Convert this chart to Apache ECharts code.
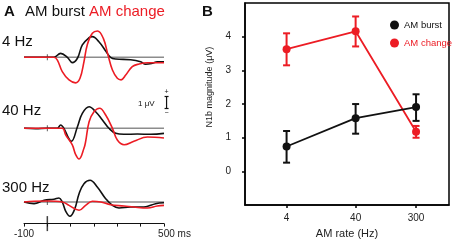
<!DOCTYPE html>
<html>
<head>
<meta charset="utf-8">
<script src="https://cdn.jsdelivr.net/npm/echarts@6/dist/echarts.min.js"></script>
<style>
  html, body { margin: 0; padding: 0; background: #fff; }
  #main { width: 454px; height: 244px; }
</style>
</head>
<body>
<div id="main"></div>
<script>
// panel A: evoked waveforms, time in ms, amplitude in uV (up = positive)
var hz4Black = [[-100,0],[-50,0],[0,0],[28,0],[57,0.33],[86,0],[107,-0.44],[129,-0.08],[150,1.03],[179,1.63],[193,1.72],[221,1.3],[250,0.53],[271,0],[293,-0.14],[357,-0.2],[400,-0.37],[421,-0.58],[450,-0.5],[471,-0.37],[500,-0.37]];
var hz4Red = [[-100,0],[0,0],[28,0],[43,-0.23],[64,-1.2],[93,-1.89],[121,-2.13],[140,-1.75],[157,-0.37],[171,1.03],[193,2.0],[215,2.19],[240,1.58],[260,0.19],[279,-1.06],[300,-1.75],[316,-1.88],[336,-1.48],[364,-0.78],[393,-0.56],[429,-0.45],[471,-0.45],[500,-0.45]];
var hz40Black = [[-100,0],[-50,-0.04],[0,0],[43,0],[57,0.28],[71,0],[93,-0.89],[103,-1.08],[129,0.13],[150,1.25],[179,1.8],[207,1.38],[236,0.69],[264,0],[293,-0.42],[328,-0.5],[386,-0.48],[443,-0.5],[500,-0.42]];
var hz40Red = [[-100,0],[0,0],[64,0],[79,-0.56],[107,-1.39],[121,-2.17],[136,-2.56],[157,-1.67],[164,-1.12],[179,0.55],[200,1.38],[224,1.67],[250,1.11],[279,0],[300,-0.98],[329,-1.37],[371,-1.08],[429,-0.73],[500,-0.81]];
var hz300Black = [[-100,0],[-57,-0.14],[-14,0.14],[28,0.23],[50,0.33],[64,0],[79,-0.78],[97,-1.19],[117,-0.61],[136,0.69],[157,1.53],[183,1.81],[214,1.25],[250,0.28],[279,-0.28],[307,-0.5],[357,-0.42],[414,-0.42],[464,-0.14],[500,-0.06]];
var hz300Red = [[-100,0],[-57,0.06],[0,0.08],[64,0],[93,-0.28],[136,-0.69],[164,-0.28],[193,0.06],[229,0],[271,-0.23],[329,-0.33],[371,-0.42],[429,-0.5],[471,-0.33],[500,-0.28]];
var timeLabels = { '-100': '-100', '500': '{sp|}500 ms' };
var scaleBar = [[511, 1.65, 2.65]];

// panel B: N1b magnitude by AM rate
var rates = [4, 40, 300];
var burstMean = [0.74, 1.58, 1.91];
var burstLo = [0.26, 1.12, 1.5];
var burstHi = [1.2, 2.0, 2.29];
var changeMean = [3.63, 4.16, 1.18];
var changeLo = [3.15, 3.71, 1.0];
var changeHi = [4.1, 4.6, 1.35];

var RED = '#ec1c24';
var BLACK = '#111';
var GRAY = '#8c8c8c';
var FONT = '"Liberation Sans", Arial, sans-serif';

var chart = echarts.init(document.getElementById('main'));

function pair(x, y) {
    var out = [];
    for (var i = 0; i < x.length; i++) out.push([x[i], y[i]]);
    return out;
}
function bars(x, lo, hi) {
    var out = [];
    for (var i = 0; i < x.length; i++) out.push([x[i], lo[i], hi[i]]);
    return out;
}
function errRender(color) {
    return function (params, api) {
        var top = api.coord([api.value(0), api.value(2)]);
        var bot = api.coord([api.value(0), api.value(1)]);
        var w = 3.5;
        var st = { stroke: color, lineWidth: 2 };
        return {
            type: 'group',
            children: [
                { type: 'line', shape: { x1: top[0], y1: top[1], x2: bot[0], y2: bot[1] }, style: st },
                { type: 'line', shape: { x1: top[0] - w, y1: top[1], x2: top[0] + w, y2: top[1] }, style: st },
                { type: 'line', shape: { x1: bot[0] - w, y1: bot[1], x2: bot[0] + w, y2: bot[1] }, style: st }
            ]
        };
    };
}
function wave(name, data, color, idx) {
    return {
        name: name, type: 'line', xAxisIndex: idx, yAxisIndex: idx,
        data: data, smooth: 0.4, symbol: 'none', clip: false, z: 3,
        lineStyle: { color: color, width: 1.6 }
    };
}
function baseline(idx) {
    return {
        type: 'line', xAxisIndex: idx, yAxisIndex: idx, symbol: 'none', silent: true, z: 2,
        data: [[-100, 0], [500, 0]], lineStyle: { color: GRAY, width: 1.5 }
    };
}
function zeroMark(idx) {
    return {
        type: 'scatter', xAxisIndex: idx, yAxisIndex: idx, silent: true, z: 2,
        data: [[0, 0]], symbol: 'rect', symbolSize: [1, 6], itemStyle: { color: '#333' }
    };
}
function hiddenX(idx) {
    return { type: 'value', gridIndex: idx, min: -100, max: 500, show: false };
}
function hiddenY(idx, mn, mx) {
    return { type: 'value', gridIndex: idx, min: mn, max: mx, show: false };
}

var option = {
    animation: false,
    textStyle: { fontFamily: FONT },
    grid: [
        { left: 24, width: 140, top: 27.3, height: 60 },
        { left: 24, width: 140, top: 92.3, height: 72 },
        { left: 24, width: 140, top: 178, height: 45.6 },
        { left: 245, right: 5, top: 3, bottom: 36, show: true, borderColor: '#000', borderWidth: 1.5 }
    ],
    xAxis: [
        hiddenX(0),
        hiddenX(1),
        {
            type: 'value', gridIndex: 2, min: -100, max: 500, interval: 100,
            splitLine: { show: false },
            axisLine: { show: true, onZero: false, lineStyle: { color: '#111', width: 1 } },
            axisTick: { show: true, length: 3, lineStyle: { color: '#111' } },
            axisLabel: {
                margin: 6, fontSize: 10, color: '#222', showMinLabel: true, showMaxLabel: true,
                formatter: function (v) { return timeLabels[String(v)] || ''; },
                rich: { sp: { width: 21 } }
            }
        },
        {
            type: 'log', gridIndex: 3, min: 1, max: 900, logBase: 10,
            splitLine: { show: false },
            axisLine: { show: true, onZero: false, lineStyle: { color: '#000', width: 1.5 } },
            axisTick: { show: true, length: 3, customValues: rates, lineStyle: { color: '#000', width: 1.5 } },
            axisLabel: { customValues: rates, margin: 8, fontSize: 10, color: '#222' },
            name: 'AM rate (Hz)', nameLocation: 'middle', nameGap: 22,
            nameTextStyle: { fontSize: 11, color: '#222' }
        }
    ],
    yAxis: [
        hiddenY(0, -2.5, 2.5),
        hiddenY(1, -3, 3),
        hiddenY(2, -1.8, 2),
        {
            type: 'value', gridIndex: 3, min: -1, max: 5,
            splitLine: { show: false },
            axisLine: { show: true, onZero: false, lineStyle: { color: '#000', width: 1.5 } },
            axisTick: { show: true, length: 3, customValues: [0, 1, 2, 3, 4], lineStyle: { color: '#000', width: 1.5 } },
            axisLabel: { customValues: [0, 1, 2, 3, 4], margin: 14, fontSize: 10, color: '#222' },
            name: 'N1b magnitude (μV)', nameLocation: 'middle', nameGap: 31,
            nameTextStyle: { fontSize: 9, color: '#222', padding: [0, 0, 0, 34] }
        }
    ],
    legend: {
        orient: 'vertical', left: 385, top: 15, itemWidth: 9, itemHeight: 9, itemGap: 8,
        icon: 'circle', textStyle: { fontSize: 9.5 },
        data: [
            { name: 'AM burst', textStyle: { color: BLACK } },
            { name: 'AM change', textStyle: { color: RED } }
        ]
    },
    graphic: [
        { type: 'text', left: 4, top: 4, style: { text: 'A', font: 'bold 15px ' + FONT, fill: '#111' } },
        { type: 'text', left: 25, top: 4, style: { text: 'AM burst', font: '15px ' + FONT, fill: '#111' } },
        { type: 'text', left: 89, top: 4, style: { text: 'AM change', font: '15px ' + FONT, fill: RED } },
        { type: 'text', left: 2, top: 34, style: { text: '4 Hz', font: '15px ' + FONT, fill: '#111' } },
        { type: 'text', left: 2, top: 103, style: { text: '40 Hz', font: '15px ' + FONT, fill: '#111' } },
        { type: 'text', left: 2, top: 180, style: { text: '300 Hz', font: '15px ' + FONT, fill: '#111' } },
        { type: 'text', left: 138, top: 100, style: { text: '1 μV', font: '8px ' + FONT, fill: '#111' } },
        { type: 'text', left: 202, top: 4, style: { text: 'B', font: 'bold 15px ' + FONT, fill: '#111' } }
    ],
    series: [
        baseline(0), baseline(1), baseline(2),
        zeroMark(0), zeroMark(1), zeroMark(2),
        wave('4 Hz burst', hz4Black, BLACK, 0),
        wave('4 Hz change', hz4Red, RED, 0),
        wave('40 Hz burst', hz40Black, BLACK, 1),
        wave('40 Hz change', hz40Red, RED, 1),
        wave('300 Hz burst', hz300Black, BLACK, 2),
        wave('300 Hz change', hz300Red, RED, 2),
        {
            type: 'scatter', xAxisIndex: 2, yAxisIndex: 2, silent: true, clip: false,
            data: [[0, -1.8]], symbol: 'rect', symbolSize: [1.5, 15], itemStyle: { color: '#111' }
        },
        {
            type: 'custom', xAxisIndex: 1, yAxisIndex: 1, silent: true, clip: false,
            data: scaleBar, encode: { x: 0, y: [1, 2] },
            renderItem: function (params, api) {
                var top = api.coord([api.value(0), api.value(2)]);
                var bot = api.coord([api.value(0), api.value(1)]);
                var st = { stroke: '#111', lineWidth: 1.2 };
                return {
                    type: 'group',
                    children: [
                        { type: 'line', shape: { x1: top[0], y1: top[1], x2: bot[0], y2: bot[1] }, style: st },
                        { type: 'line', shape: { x1: top[0] - 2, y1: top[1], x2: top[0] + 2, y2: top[1] }, style: st },
                        { type: 'line', shape: { x1: bot[0] - 2, y1: bot[1], x2: bot[0] + 2, y2: bot[1] }, style: st },
                        { type: 'text', x: top[0], y: top[1] - 1, style: { text: '+', font: '7px ' + FONT, fill: '#111', align: 'center', verticalAlign: 'bottom' } },
                        { type: 'text', x: bot[0], y: bot[1] + 1, style: { text: '−', font: '7px ' + FONT, fill: '#111', align: 'center', verticalAlign: 'top' } }
                    ]
                };
            }
        },
        {
            name: 'AM change', type: 'line', xAxisIndex: 3, yAxisIndex: 3,
            data: pair(rates, changeMean), symbol: 'circle', symbolSize: 8,
            itemStyle: { color: RED }, lineStyle: { color: RED, width: 1.8 }, z: 3
        },
        {
            type: 'custom', xAxisIndex: 3, yAxisIndex: 3, silent: true,
            data: bars(rates, changeLo, changeHi), encode: { x: 0, y: [1, 2] },
            renderItem: errRender(RED), z: 3
        },
        {
            name: 'AM burst', type: 'line', xAxisIndex: 3, yAxisIndex: 3,
            data: pair(rates, burstMean), symbol: 'circle', symbolSize: 8,
            itemStyle: { color: BLACK }, lineStyle: { color: BLACK, width: 1.8 }, z: 4
        },
        {
            type: 'custom', xAxisIndex: 3, yAxisIndex: 3, silent: true,
            data: bars(rates, burstLo, burstHi), encode: { x: 0, y: [1, 2] },
            renderItem: errRender(BLACK), z: 4
        }
    ]
};

chart.setOption(option);
</script>
</body>
</html>
